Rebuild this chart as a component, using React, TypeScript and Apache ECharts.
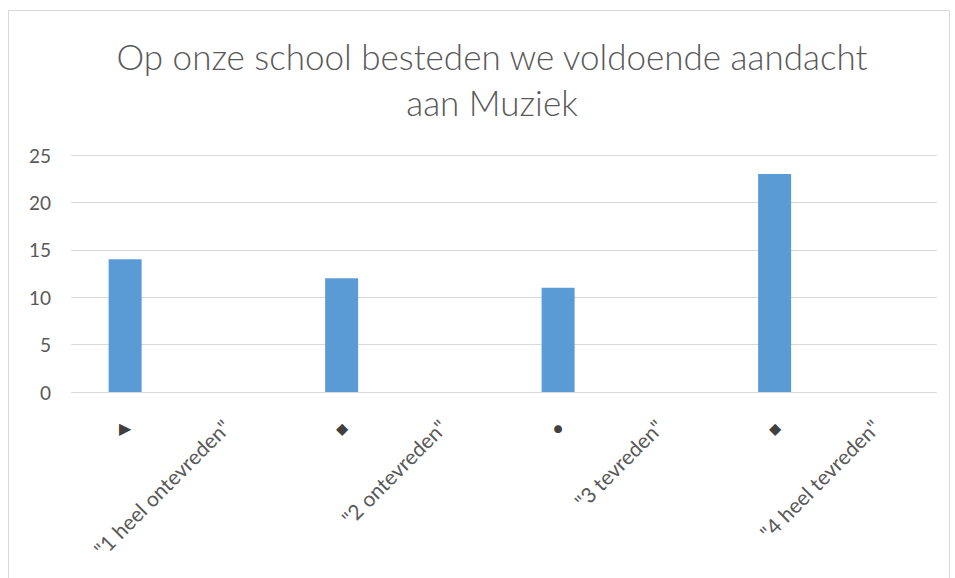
import React, { useEffect, useRef } from "react";
import * as echarts from "echarts";

const titleText = "Op onze school besteden we voldoende aandacht\naan Muziek";
const symbols = ["▶", "◆", "●", "◆"];
const answerLabels = ['"1 heel ontevreden"', '"2 ontevreden"', '"3 tevreden"', '"4 heel tevreden"'];
const counts = [14, 12, 11, 23];
const yTicks = { min: 0, max: 25, interval: 5 };

export default function App() {
  const ref = useRef<HTMLDivElement>(null);
  useEffect(() => {
    if (!ref.current) return;
    const chart = echarts.init(ref.current, null, { renderer: "svg" });
    const cats: string[] = [];
    const values: (number | null)[] = [];
    symbols.forEach((s, i) => {
      cats.push(s);
      cats.push(answerLabels[i]);
      values.push(counts[i]);
      values.push(null);
    });
    chart.setOption({
      animation: false,
      backgroundColor: "#ffffff",
      textStyle: { fontFamily: "Lato, 'Liberation Sans', sans-serif" },
      title: {
        text: titleText,
        left: 487,
        top: 28,
        textAlign: "center",
        textStyle: {
          fontFamily: "Lato, sans-serif",
          fontWeight: 300,
          fontSize: 35,
          lineHeight: 46,
          color: "#595959",
        },
      },
      graphic: [
        {
          type: "rect",
          shape: { x: 8.5, y: 10.5, width: 941, height: 600 },
          style: { fill: "none", stroke: "#d9d9d9", lineWidth: 1 },
          silent: true,
          z: -1,
        },
      ],
      grid: { left: 71, right: 18, top: 155, bottom: 186, containLabel: false },
      xAxis: [
        {
          type: "category",
          data: cats,
          axisLine: { show: false },
          axisTick: { show: false },
          axisLabel: {
            interval: 0,
            margin: 27,
            color: "#404040",
            fontSize: 16,
            formatter: (v: string, i: number) => (i % 2 === 0 ? v : ""),
          },
        },
        {
          type: "category",
          data: cats,
          position: "bottom",
          axisLine: { show: false },
          axisTick: { show: false },
          axisLabel: {
            interval: 0,
            rotate: 45,
            margin: 24,
            padding: [0, 10, 0, 0],
            color: "#595959",
            fontSize: 21,
            fontFamily: "Lato, sans-serif",
            formatter: (v: string, i: number) => (i % 2 === 1 ? v : ""),
          },
        },
      ],
      yAxis: {
        type: "value",
        min: yTicks.min,
        max: yTicks.max,
        interval: yTicks.interval,
        axisLine: { show: false },
        axisTick: { show: false },
        axisLabel: { color: "#595959", fontSize: 19, margin: 20 },
        splitLine: { lineStyle: { color: "#d9d9d9", width: 1 } },
      },
      series: [
        {
          type: "bar",
          data: values,
          barWidth: 33,
          itemStyle: { color: "#5b9bd5" },
        },
      ],
    });
    return () => chart.dispose();
  }, []);
  return <div ref={ref} style={{ width: 955, height: 578, position: "absolute", left: 0, top: 0 }} />;
}
